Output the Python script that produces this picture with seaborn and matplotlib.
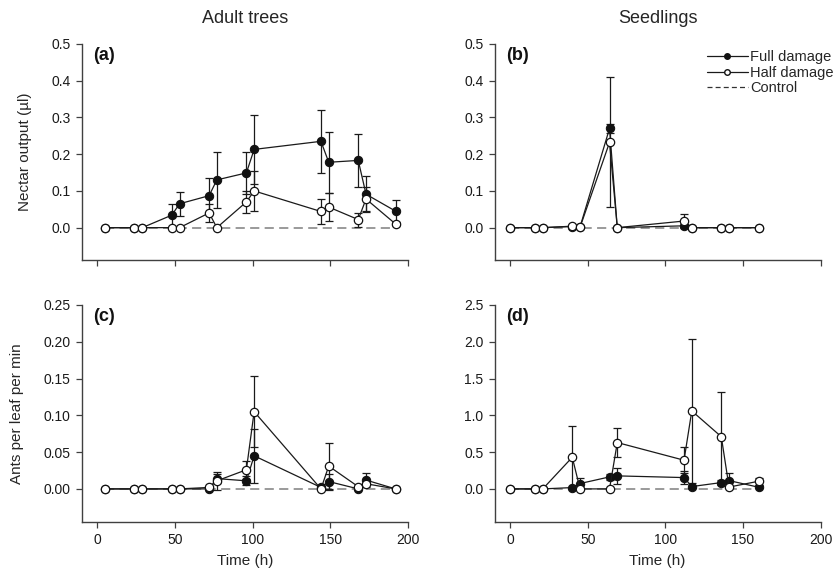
import numpy as np
import pandas as pd
import matplotlib
matplotlib.use("Agg")
import matplotlib.pyplot as plt
import seaborn as sns
from matplotlib.lines import Line2D

# ---------------- data ----------------
t_adult = [5, 24, 29, 48, 53, 72, 77, 96, 101, 144, 149, 168, 173, 192]
t_seed = [0, 16, 21, 40, 45, 64, 69, 112, 117, 136, 141, 160]

nectar_adult_full = [0, 0, 0, 0.034, 0.065, 0.087, 0.130, 0.149, 0.213, 0.235, 0.178, 0.183, 0.091, 0.045]
nectar_adult_full_se = [0, 0, 0, 0.031, 0.032, 0.047, 0.076, 0.058, 0.094, 0.085, 0.083, 0.073, 0.049, 0.030]
nectar_adult_half = [0, 0, 0, 0, 0, 0.040, 0, 0.070, 0.100, 0.044, 0.056, 0.022, 0.078, 0.010]
nectar_adult_half_se = [0, 0, 0, 0, 0, 0.025, 0, 0.030, 0.055, 0.035, 0.038, 0.019, 0.032, 0.005]
nectar_adult_ctrl = [0, 0, 0, 0, 0, 0, 0, 0, 0, 0, 0, 0, 0, 0]

nectar_seed_full = [0, 0, 0, 0.003, 0.002, 0.270, 0, 0.005, 0, 0, 0, 0]
nectar_seed_full_se = [0, 0, 0, 0, 0, 0.012, 0, 0.003, 0, 0, 0, 0]
nectar_seed_half = [0, 0, 0, 0.004, 0.001, 0.232, 0, 0.018, 0, 0, 0, 0]
nectar_seed_half_se = [0, 0, 0, 0, 0, 0.177, 0, 0.019, 0, 0, 0, 0]
nectar_seed_ctrl = [0, 0, 0, 0, 0, 0, 0, 0, 0, 0, 0, 0]

ants_adult_full = [0, 0, 0, 0, 0, 0, 0.014, 0.011, 0.045, 0.002, 0.010, 0, 0.012, 0]
ants_adult_full_se = [0, 0, 0, 0, 0, 0, 0.006, 0.006, 0.037, 0, 0.010, 0, 0.009, 0]
ants_adult_half = [0, 0, 0, 0, 0, 0.002, 0.011, 0.026, 0.105, 0, 0.031, 0.003, 0.007, 0]
ants_adult_half_se = [0, 0, 0, 0, 0, 0, 0.012, 0.012, 0.048, 0, 0.032, 0, 0, 0]
ants_adult_ctrl = [0, 0, 0, 0, 0, 0, 0, 0, 0, 0, 0, 0, 0, 0]

ants_seed_full = [0, 0, 0, 0.018, 0.073, 0.163, 0.177, 0.154, 0.032, 0.086, 0.113, 0.023]
ants_seed_full_se = [0, 0, 0, 0, 0.077, 0.046, 0.110, 0.090, 0.020, 0.030, 0.100, 0.010]
ants_seed_half = [0, 0, 0, 0.430, 0, 0, 0.630, 0.390, 1.060, 0.710, 0.025, 0.104]
ants_seed_half_se = [0, 0, 0, 0.430, 0, 0, 0.200, 0.180, 0.980, 0.610, 0, 0.050]
ants_seed_ctrl = [0, 0, 0, 0, 0, 0, 0, 0, 0, 0, 0, 0]

col_titles = ["Adult trees", "Seedlings"]
ylabels = ["Nectar output (\u00b5l)", "Ants per leaf per min"]
panel_labels = ["(a)", "(b)", "(c)", "(d)"]
series_labels = ["Full damage", "Half damage", "Control"]
x_ticks = [0, 50, 100, 150, 200]

# ---------------- style ----------------
sns.set_style("ticks")
plt.rcParams["font.family"] = ["Liberation Sans", "DejaVu Sans"]
plt.rcParams["font.size"] = 10
plt.rcParams["axes.edgecolor"] = "#404040"
plt.rcParams["xtick.color"] = "#404040"
plt.rcParams["ytick.color"] = "#404040"
plt.rcParams["xtick.labelcolor"] = "#1a1a1a"
plt.rcParams["ytick.labelcolor"] = "#1a1a1a"

fig = plt.figure(figsize=(8.35, 5.72), dpi=100)
positions = [
    [0.0978, 0.5455, 0.3908, 0.3776],
    [0.5924, 0.5455, 0.3904, 0.3776],
    [0.0978, 0.0874, 0.3908, 0.3794],
    [0.5924, 0.0874, 0.3904, 0.3794],
]
axes = [fig.add_axes(p) for p in positions]

panels = [
    (t_adult, nectar_adult_full, nectar_adult_full_se, nectar_adult_half, nectar_adult_half_se, nectar_adult_ctrl),
    (t_seed, nectar_seed_full, nectar_seed_full_se, nectar_seed_half, nectar_seed_half_se, nectar_seed_ctrl),
    (t_adult, ants_adult_full, ants_adult_full_se, ants_adult_half, ants_adult_half_se, ants_adult_ctrl),
    (t_seed, ants_seed_full, ants_seed_full_se, ants_seed_half, ants_seed_half_se, ants_seed_ctrl),
]
ylims = [(-0.088, 0.5), (-0.088, 0.5), (-0.045, 0.25), (-0.45, 2.5)]
yticks = [np.arange(0, 0.51, 0.1), np.arange(0, 0.51, 0.1), np.arange(0, 0.251, 0.05), np.arange(0, 2.51, 0.5)]
yfmt = ["{:.1f}", "{:.1f}", "{:.2f}", "{:.1f}"]


def draw_err(ax, t, y, se):
    t = np.asarray(t, float); y = np.asarray(y, float); se = np.asarray(se, float)
    m = se > 0
    ax.errorbar(t[m], y[m], yerr=se[m], fmt="none", ecolor="#1a1a1a",
                elinewidth=0.9, capsize=3, capthick=0.9, zorder=3)


for i, (ax, (t, full, full_se, half, half_se, ctrl)) in enumerate(zip(axes, panels)):
    df = pd.DataFrame({"t": t, "full": full, "half": half, "ctrl": ctrl})
    sns.lineplot(data=df, x="t", y="ctrl", ax=ax, color="#7f7f7f", linestyle=(0, (6, 3.5)),
                 linewidth=1.1, zorder=2, legend=False)
    draw_err(ax, t, full, full_se)
    draw_err(ax, t, half, half_se)
    sns.lineplot(data=df, x="t", y="full", ax=ax, color="#1a1a1a", linewidth=0.9,
                 marker="o", markersize=6, markerfacecolor="#111111", markeredgecolor="#111111",
                 zorder=4, legend=False)
    sns.lineplot(data=df, x="t", y="half", ax=ax, color="#1a1a1a", linewidth=0.9,
                 marker="o", markersize=6, markerfacecolor="white", markeredgecolor="#111111",
                 markeredgewidth=0.9, zorder=5, legend=False)

    ax.set_xlim(-10, 200)
    ax.set_ylim(*ylims[i])
    ax.set_xticks(x_ticks)
    ax.set_yticks(yticks[i])
    ax.set_yticklabels([yfmt[i].format(v) for v in yticks[i]])
    if i < 2:
        ax.set_xticklabels([])
        ax.set_xlabel("")
    else:
        ax.set_xticklabels([str(v) for v in x_ticks])
        ax.set_xlabel("Time (h)", fontsize=11, labelpad=5)
    if i % 2 == 0:
        ax.set_ylabel(ylabels[i // 2], fontsize=11, labelpad=14)
    else:
        ax.set_ylabel("")
    ax.tick_params(direction="out", length=4, width=0.9, labelsize=10, pad=4)
    for s in ["top", "right"]:
        ax.spines[s].set_visible(False)
    for s in ["left", "bottom"]:
        ax.spines[s].set_linewidth(1.0)
    ax.text(0.035, 0.985, panel_labels[i], transform=ax.transAxes, fontsize=13,
            fontweight="bold", va="top", ha="left", color="#111111")

for j, title in enumerate(col_titles):
    pos = positions[j]
    fig.text(pos[0] + pos[2] / 2, 0.967, title, ha="center", va="center", fontsize=13)

# legend
handles = [
    Line2D([], [], color="#1a1a1a", linewidth=0.9, marker="o", markersize=4,
           markerfacecolor="#111111", markeredgecolor="#111111"),
    Line2D([], [], color="#1a1a1a", linewidth=0.9, marker="o", markersize=4,
           markerfacecolor="white", markeredgecolor="#111111"),
    Line2D([], [], color="#333333", linewidth=0.9, linestyle=(0, (4, 2.5))),
]
fig.legend(handles, series_labels, loc="upper right", bbox_to_anchor=(1.005, 0.922),
           frameon=False, fontsize=10.5, handlelength=2.8, handletextpad=0.15,
           labelspacing=0.1, borderaxespad=0.0)

fig.savefig("out.png", dpi=100)
